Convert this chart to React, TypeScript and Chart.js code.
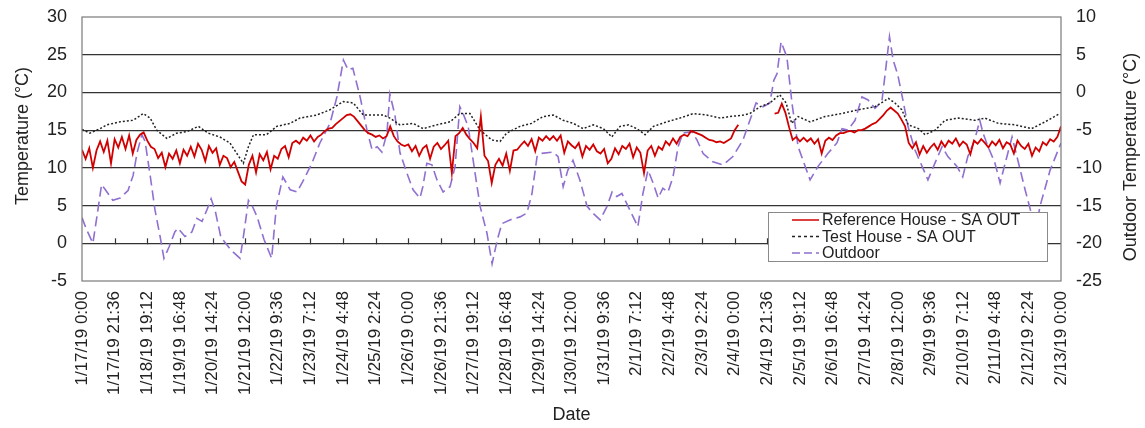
import React, { useEffect, useRef } from "react";
import { Chart, registerables } from "chart.js";

Chart.register(...registerables);

const xTickLabels = [
  "1/17/19 0:00", "1/17/19 21:36", "1/18/19 19:12", "1/19/19 16:48", "1/20/19 14:24",
  "1/21/19 12:00", "1/22/19 9:36", "1/23/19 7:12", "1/24/19 4:48", "1/25/19 2:24",
  "1/26/19 0:00", "1/26/19 21:36", "1/27/19 19:12", "1/28/19 16:48", "1/29/19 14:24",
  "1/30/19 12:00", "1/31/19 9:36", "2/1/19 7:12", "2/2/19 4:48", "2/3/19 2:24",
  "2/4/19 0:00", "2/4/19 21:36", "2/5/19 19:12", "2/6/19 16:48", "2/7/19 14:24",
  "2/8/19 12:00", "2/9/19 9:36", "2/10/19 7:12", "2/11/19 4:48", "2/12/19 2:24",
  "2/13/19 0:00",
];
const tickStepDays = 0.9; // 21h36m between labels

// Reference House - SA OUT, one reading every 0.1 day from 1/17 0:00
const refStepDays = 0.1;
const refTemps: (number | null)[] = [
  12.4, 11.2, 12.6, 10.0, 12.3, 13.5, 12.1, 13.6, 10.6, 13.8,
  12.7, 14.1, 12.5, 14.3, 11.9, 13.7, 14.4, 14.7, 13.6, 12.8,
  12.5, 11.3, 12.0, 10.1, 11.9, 11.2, 12.3, 10.6, 12.4, 11.6,
  12.8, 11.5, 13.2, 12.4, 10.9, 12.9, 12.0, 12.6, 10.4, 11.6,
  11.3, 10.1, 10.8, 9.5, 8.2, 7.8, 10.4, 11.6, 9.4, 11.8,
  11.0, 12.1, 9.8, 11.6, 11.2, 12.5, 12.9, 11.4, 13.3, 13.6,
  13.2, 14.0, 13.6, 14.3, 13.5, 14.1, 14.4, 14.9, 15.2, 15.3,
  15.8, 16.2, 16.6, 17.0, 17.1, 16.8, 16.2, 15.6, 15.0, 14.6,
  14.4, 14.1, 14.3, 13.9, 14.2, 15.5, 14.2, 13.5, 13.1, 12.9,
  13.1, 12.2, 12.9, 11.6, 12.6, 13.0, 11.2, 12.8, 13.3, 12.5,
  13.0, 13.6, 9.3, 14.2, 14.6, 15.3, 14.4, 13.8, 13.3, 12.6,
  16.8, 11.6, 10.9, 8.0, 10.4, 11.2, 10.3, 11.9, 9.6, 12.3,
  12.4, 13.0, 13.5, 12.9, 13.8, 12.2, 14.0, 13.6, 14.2, 13.7,
  14.2, 13.6, 14.3, 12.0, 13.5, 13.0, 12.6, 13.3, 11.5, 12.9,
  12.4, 13.1, 12.2, 11.9, 12.5, 10.6, 11.2, 12.6, 11.8, 12.9,
  12.5, 13.2, 11.4, 12.7, 12.0, 9.3, 12.3, 12.9, 11.6, 12.8,
  12.4, 13.5, 13.0, 13.9, 13.2, 14.1, 14.4, 14.2, 14.9, 14.7,
  14.5, 14.3, 14.0, 13.7, 13.6, 13.4, 13.5, 13.3, 13.6, 13.9,
  15.0, 15.7, null, null, null, null, null, null, null, null,
  null, 17.2, 17.3, 18.5, 17.3, 15.4, 13.7, 14.1, 13.5, 14.0,
  13.5, 13.9, 13.2, 13.8, 11.9, 13.6, 14.0, 13.7, 14.3, 14.6,
  14.6, 14.8, 14.9, 14.7, 15.0, 15.0, 15.2, 15.5, 15.8, 16.0,
  16.5, 17.0, 17.6, 18.0, 17.6, 17.2, 16.4, 15.5, 13.3, 12.6,
  13.4, 11.8, 12.9, 12.0, 12.7, 13.2, 12.4, 13.5, 12.8, 13.6,
  13.2, 13.9, 12.9, 13.5, 13.1, 11.8, 13.6, 13.2, 13.8, 13.3,
  12.7, 13.5, 13.0, 13.7, 12.6, 13.4, 13.1, 11.9, 13.6, 12.9,
  12.5, 13.2, 11.6, 12.7, 12.2, 13.4, 13.0, 13.8, 13.5, 14.1,
  15.5,
];

// Test House - SA OUT (days since 1/17 0:00, °C)
const testDays = [
  0.0, 0.22, 0.5, 0.68, 1.05, 1.41, 1.69, 1.88, 2.06, 2.34, 2.61, 2.89, 3.21, 3.48, 3.8,
  4.08, 4.27, 4.45, 4.59, 4.73, 5.09, 5.37, 5.74, 6.01, 6.47, 6.84, 7.21, 7.48, 7.76, 8.03,
  8.31, 8.49, 8.77, 9.13, 9.41, 9.78, 10.15, 10.42, 10.7, 10.98, 11.3, 11.53, 11.71, 12.08,
  12.4, 12.72, 13.0, 13.27, 13.55, 13.82, 14.1, 14.38, 14.61, 14.84, 15.07, 15.3, 15.53,
  15.76, 16.13, 16.49, 16.86, 17.23, 17.6, 17.87, 18.24, 18.42, 18.7, 18.97, 19.24, 19.42,
  19.57, 19.75, 20.08, 20.49, 20.95, 21.41, 21.87, 22.24, 22.42, 22.61, 22.79, 23.07, 23.25,
  23.53, 23.8, 24.17, 24.63, 24.9, 25.27, 25.73, 26.19, 26.56, 26.97,
];
const testTemps = [
  15.1, 14.6, 15.2, 15.7, 16.1, 16.3, 17.2, 16.6, 15.0, 13.9, 14.6, 14.8, 15.5, 14.6, 14.1,
  13.3, 11.9, 10.6, 12.8, 14.4, 14.4, 15.5, 15.9, 16.6, 17.0, 17.7, 18.8, 18.6, 17.0, 17.0,
  17.0, 16.6, 15.7, 15.9, 15.2, 15.7, 16.1, 17.2, 17.2, 15.0, 13.7, 13.5, 14.6, 15.5,
  15.9, 16.8, 17.0, 16.3, 15.9, 15.2, 15.7, 15.2, 14.1, 15.5, 15.7, 15.2, 14.4,
  15.5, 16.1, 16.6, 17.2, 17.0, 16.6, 16.8, 17.0, 17.2, 18.1, 18.6, 19.7, 18.6,
  15.9, 16.8, 16.1, 16.8, 17.2, 17.7, 18.1, 19.2, 18.6, 17.7, 15.7, 15.2, 14.4,
  15.0, 16.3, 16.6, 16.3, 16.6, 15.9, 15.7, 15.2, 16.1, 17.2,
];

// Outdoor (days since 1/17 0:00, °C on the right axis)
const outDays = [
  0.0, 0.11, 0.3, 0.41, 0.54, 0.63, 0.85, 1.05, 1.27, 1.41, 1.52, 1.65, 1.74, 1.88, 2.01,
  2.15, 2.26, 2.4, 2.56, 2.65, 2.84, 3.03, 3.17, 3.31, 3.45, 3.56, 3.67, 3.83, 4.11, 4.36,
  4.47, 4.59, 4.69, 4.83, 5.02, 5.23, 5.36, 5.54, 5.74, 5.93, 6.09, 6.34, 6.56, 6.84, 7.03,
  7.21, 7.34, 7.47, 7.67, 7.86, 8.0, 8.14, 8.27, 8.41, 8.49, 8.63, 8.77, 8.96, 9.13, 9.32,
  9.4, 9.51, 9.65, 9.79, 9.96, 10.15, 10.29, 10.42, 10.51, 10.65, 10.84, 10.98, 11.17, 11.31,
  11.45, 11.58, 11.8, 12.08, 12.27, 12.41, 12.55, 12.63, 12.99, 13.13, 13.27, 13.4, 13.54,
  13.73, 13.93, 14.09, 14.29, 14.48, 14.62, 14.75, 14.89, 15.06, 15.33, 15.47, 15.61, 15.75,
  15.89, 16.02, 16.16, 16.3, 16.44, 16.57, 16.82, 16.96, 17.13, 17.4, 17.68, 17.95, 18.23,
  18.42, 18.59, 18.78, 18.97, 19.08, 19.17, 19.28, 19.44, 19.58, 19.75, 20.08, 20.3, 20.57,
  20.82, 20.96, 21.12, 21.32, 21.51, 21.68, 21.87, 22.06, 22.2, 22.27, 22.37, 22.5, 22.64,
  22.78, 22.97, 23.17, 23.33, 23.52, 23.72, 23.88, 24.13, 24.29, 24.43, 24.62, 24.76, 24.85,
  24.99, 25.18, 25.32, 25.46, 25.65, 25.81, 26.01, 26.18, 26.3, 26.42, 26.7, 27.0,
];
const outTemps = [
  -16.6, -18.0, -20.0, -16.5, -12.2, -12.8, -14.3, -14.0, -13.0, -11.0, -8.0, -5.6, -6.5, -11.0, -15.5,
  -19.0, -22.0, -20.5, -18.5, -18.0, -19.1, -18.5, -16.7, -17.1, -15.5, -14.1, -15.6, -19.2, -20.9, -22.0,
  -18.5, -14.3, -15.0, -16.5, -19.5, -22.0, -15.1, -11.2, -12.9, -13.2, -11.8, -9.4, -6.7, -4.1, -0.6,
  4.3, 3.0, 3.2, -0.6, -5.0, -7.6, -7.2, -7.9, -5.4, -0.2, -3.0, -8.0, -10.7, -12.9, -14.0,
  -12.5, -9.4, -9.6, -11.6, -13.2, -12.5, -9.8, -1.9, -2.8, -4.5, -10.7, -15.1, -18.7, -22.7,
  -19.6, -17.4, -16.9, -16.5, -16.0, -13.4, -8.5, -8.1, -7.9, -8.5, -12.5, -10.3, -9.0,
  -11.6, -15.1, -16.0, -16.9, -15.1, -13.2, -13.8, -13.4, -15.1, -17.8, -13.4, -10.3, -12.0,
  -14.0, -12.7, -13.2, -11.2, -7.2, -5.4, -5.2, -6.3, -8.1, -9.2, -9.6, -8.5, -6.3,
  -3.7, -1.4, -1.9, -1.4, 1.6, 2.5, 6.7, 4.7, -1.4, -7.2, -11.6, -9.8, -8.1,
  -6.7, -4.8, -5.0, -3.7, -0.6, -1.0, -2.1, -1.2, 4.5, 7.4, 4.3, 2.3, -1.0,
  -4.5, -7.6, -9.8, -11.6, -9.4, -7.2, -8.5, -9.8, -11.2, -8.5, -6.3, -3.7, -5.4,
  -7.2, -9.4, -12.0, -9.4, -5.9, -9.0, -12.9, -16.0, -18.5, -15.1, -10.3, -6.7,
];

const FONT = '"Liberation Sans", Arial, Helvetica, sans-serif';
const TEXT = "#222222";
const RED = "#d10000";
const BLACK = "#222222";
const PURPLE = "#8f6fd0";

const legendItems = [
  { text: "Reference House - SA OUT", color: RED, dash: [] as number[] },
  { text: "Test House - SA OUT", color: BLACK, dash: [3, 3] },
  { text: "Outdoor", color: PURPLE, dash: [8, 4] },
];

const framePlugin = {
  id: "frameAndExtras",
  afterDatasetsDraw(chart: any) {
    const { ctx, chartArea, scales } = chart;
    ctx.save();
    // small tick marks on the zero line
    const y0 = scales.y.getPixelForValue(0);
    ctx.strokeStyle = "#333";
    ctx.lineWidth = 1.2;
    for (let i = 1; i < xTickLabels.length - 1; i++) {
      const px = Math.round(scales.x.getPixelForValue(i * tickStepDays)) + 0.5;
      ctx.beginPath();
      ctx.moveTo(px, y0 - 5);
      ctx.lineTo(px, y0 + 1);
      ctx.stroke();
    }
    // plot frame
    ctx.strokeStyle = "#7a7a7a";
    ctx.lineWidth = 1.2;
    ctx.strokeRect(chartArea.left, chartArea.top, chartArea.right - chartArea.left, chartArea.bottom - chartArea.top);

    // legend box
    const lx = 768, ly = 212, lw = 279, lh = 49;
    ctx.fillStyle = "#ffffff";
    ctx.fillRect(lx, ly, lw, lh);
    ctx.strokeStyle = "#8a8a8a";
    ctx.lineWidth = 1;
    ctx.strokeRect(lx + 0.5, ly + 0.5, lw, lh);
    ctx.font = `16px ${FONT}`;
    ctx.textBaseline = "middle";
    ctx.textAlign = "left";
    legendItems.forEach((it, i) => {
      const cy = ly + 8 + i * 16.5;
      ctx.strokeStyle = it.color;
      ctx.lineWidth = 1.5;
      ctx.setLineDash(it.dash);
      ctx.beginPath();
      ctx.moveTo(792, cy);
      ctx.lineTo(819, cy);
      ctx.stroke();
      ctx.setLineDash([]);
      ctx.fillStyle = TEXT;
      ctx.fillText(it.text, 822, cy + 1);
    });

    // axis titles (both read bottom-to-top)
    ctx.font = `18px ${FONT}`;
    ctx.fillStyle = TEXT;
    ctx.textAlign = "center";
    ctx.textBaseline = "middle";
    ctx.save();
    ctx.translate(23, 136);
    ctx.rotate(-Math.PI / 2);
    ctx.fillText("Temperature (°C)", 0, 0);
    ctx.restore();
    ctx.save();
    ctx.translate(1131, 157);
    ctx.rotate(-Math.PI / 2);
    ctx.fillText("Outdoor Temperature (°C)", 0, 0);
    ctx.restore();
    ctx.restore();
  },
};

export default function App() {
  const canvasRef = useRef<HTMLCanvasElement>(null);

  useEffect(() => {
    document.body.style.margin = "0";
    const canvas = canvasRef.current;
    if (!canvas) return;

    const refData = refTemps.map((v, i) => ({ x: Math.round(i * refStepDays * 100) / 100, y: v }));
    const testData = testDays.map((d, i) => ({ x: d, y: testTemps[i] }));
    const outData = outDays.map((d, i) => ({ x: d, y: outTemps[i] }));

    const chart = new Chart(canvas, {
      type: "line",
      data: {
        datasets: [
          {
            label: "Reference House - SA OUT",
            data: refData as any,
            borderColor: RED,
            borderWidth: 1.8,
            pointRadius: 0,
            yAxisID: "y",
            spanGaps: false,
          },
          {
            label: "Test House - SA OUT",
            data: testData as any,
            borderColor: BLACK,
            borderWidth: 1.5,
            borderDash: [2, 2],
            pointRadius: 0,
            yAxisID: "y",
          },
          {
            label: "Outdoor",
            data: outData as any,
            borderColor: PURPLE,
            borderWidth: 1.6,
            borderDash: [10, 5],
            pointRadius: 0,
            yAxisID: "y2",
          },
        ],
      },
      options: {
        animation: false,
        responsive: false,
        devicePixelRatio: 1,
        layout: { padding: { top: 17, left: 0, right: 0, bottom: 0 } },
        plugins: { legend: { display: false }, tooltip: { enabled: false } },
        scales: {
          x: {
            type: "linear",
            min: 0,
            max: 27,
            afterBuildTicks: (s: any) => {
              s.ticks = xTickLabels.map((_, i) => ({ value: i * tickStepDays }));
            },
            afterFit: (s: any) => {
              s.height = 147;
            },
            ticks: {
              autoSkip: false,
              minRotation: 90,
              maxRotation: 90,
              padding: 10,
              color: TEXT,
              font: { family: FONT, size: 17 },
              callback: (_v: any, i: number) => xTickLabels[i],
            },
            grid: { display: false, drawTicks: false },
            border: { display: false },
            title: {
              display: true,
              text: "Date",
              color: TEXT,
              font: { family: FONT, size: 18 },
              padding: { top: 0, bottom: 2 },
            },
          },
          y: {
            position: "left",
            min: -5,
            max: 30,
            afterFit: (s: any) => {
              s.width = 82;
            },
            ticks: {
              stepSize: 5,
              padding: 2,
              color: TEXT,
              font: { family: FONT, size: 18 },
            },
            grid: {
              drawTicks: true,
              tickLength: 13,
              tickColor: "rgba(0,0,0,0)",
              lineWidth: 1.2,
              color: (c: any) =>
                c.tick && (c.tick.value === 30 || c.tick.value === -5) ? "rgba(0,0,0,0)" : "#333333",
            },
            border: { display: false },
          },
          y2: {
            position: "right",
            min: -25,
            max: 10,
            afterFit: (s: any) => {
              s.width = 84;
            },
            ticks: {
              stepSize: 5,
              padding: 2,
              color: TEXT,
              font: { family: FONT, size: 18 },
            },
            grid: {
              display: true,
              drawOnChartArea: false,
              drawTicks: true,
              tickLength: 13,
              tickColor: "rgba(0,0,0,0)",
              color: "rgba(0,0,0,0)",
            },
            border: { display: false },
          },
        },
      },
      plugins: [framePlugin],
    });

    return () => chart.destroy();
  }, []);

  return (
    <div style={{ width: 1145, height: 428 }}>
      <canvas ref={canvasRef} width={1145} height={428} style={{ display: "block" }} />
    </div>
  );
}
